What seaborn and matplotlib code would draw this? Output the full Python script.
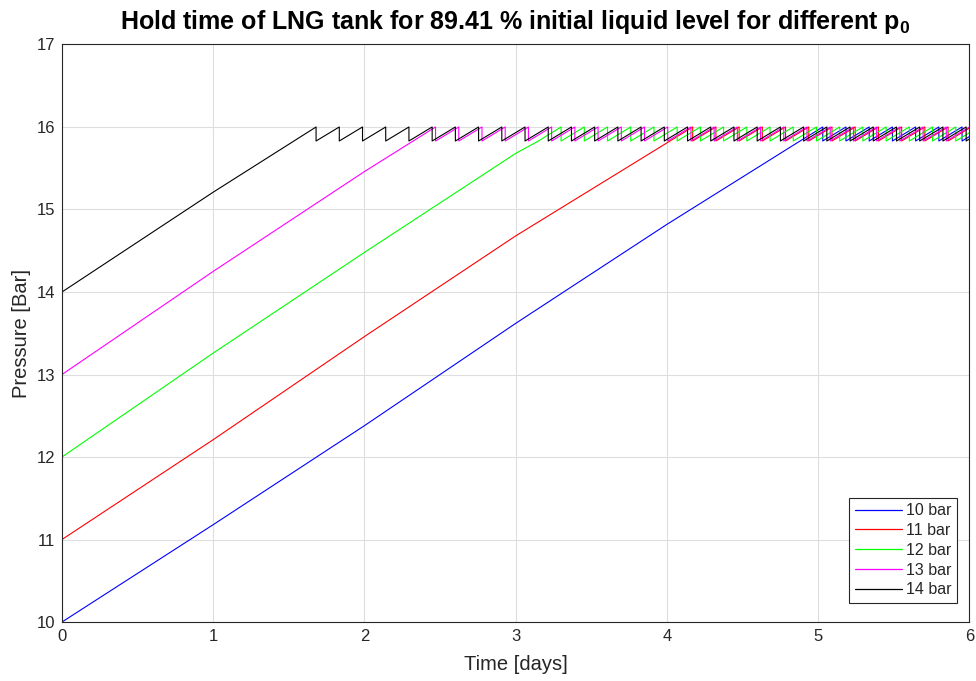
import numpy as np
import pandas as pd
import matplotlib
matplotlib.use("Agg")
import matplotlib.pyplot as plt
import seaborn as sns

# ---- data ----
labels = ["10 bar", "11 bar", "12 bar", "13 bar", "14 bar"]
colors = ["#0000FF", "#FF0000", "#00FF00", "#FF00FF", "#000000"]

# rising phase (days, bar) until the 16 bar relief limit is reached
rise_t_10 = [0.0, 1.0, 2.0, 3.0, 4.0, 4.88, 5.03]
rise_p_10 = [10.0, 11.18, 12.38, 13.62, 14.82, 15.83, 16.0]
rise_t_11 = [0.0, 1.0, 2.0, 3.0, 4.02, 4.17]
rise_p_11 = [11.0, 12.21, 13.46, 14.68, 15.83, 16.0]
rise_t_12 = [0.0, 1.0, 2.0, 3.0, 3.15, 3.30]
rise_p_12 = [12.0, 13.26, 14.48, 15.68, 15.83, 16.0]
rise_t_13 = [0.0, 1.0, 2.0, 2.47]
rise_p_13 = [13.0, 14.25, 15.46, 16.0]
rise_t_14 = [0.0, 1.0, 1.68]
rise_p_14 = [14.0, 15.21, 16.0]

p_relief = 16.0      # upper relief pressure [bar]
p_reset = 15.83      # pressure after venting [bar]
vent_period = 0.1535 # time between venting events [days]
t_end = 6.0

rises = [(rise_t_10, rise_p_10), (rise_t_11, rise_p_11), (rise_t_12, rise_p_12),
         (rise_t_13, rise_p_13), (rise_t_14, rise_p_14)]

frames = []
for lab, (rt, rp) in zip(labels, rises):
    t = list(rt)
    p = list(rp)
    tk = rt[-1]
    while tk < t_end + vent_period:
        t += [tk, tk + vent_period]
        p += [p_reset, p_relief]
        tk += vent_period
    frames.append(pd.DataFrame({"Time": t, "Pressure": p, "series": lab}))
df = pd.concat(frames, ignore_index=True)

# ---- style ----
sns.set_theme(style="white")
plt.rcParams["font.family"] = ["Liberation Sans", "DejaVu Sans"]
plt.rcParams["mathtext.fontset"] = "custom"
plt.rcParams["mathtext.rm"] = "Liberation Sans"
plt.rcParams["mathtext.bf"] = "Liberation Sans:bold"

fig = plt.figure(figsize=(9.76, 6.81), dpi=100)
ax = fig.add_axes([0.0635, 0.0866, 0.9298, 0.8481])

sns.lineplot(data=df, x="Time", y="Pressure", hue="series", hue_order=labels,
             palette=colors, estimator=None, sort=False, linewidth=0.8, ax=ax)

ax.set_xlim(0, 6)
ax.set_ylim(10, 17)
ax.set_xticks(range(0, 7))
ax.set_yticks(range(10, 18))
ax.grid(True, color="#DEDEDE", linewidth=0.8)
ax.set_axisbelow(True)
for s in ax.spines.values():
    s.set_color("#262626")
    s.set_linewidth(0.8)
ax.tick_params(direction="in", length=5, width=0.8, color="#262626",
               labelsize=12, labelcolor="#262626", top=False, right=False, pad=5)

ax.set_xlabel("Time [days]", fontsize=14.5, color="#262626", labelpad=8)
ax.set_ylabel("Pressure [Bar]", fontsize=14.5, color="#262626", labelpad=4)
ax.set_title(r"Hold time of LNG tank for 89.41 % initial liquid level for different $\mathbf{p_0}$",
             fontsize=18, fontweight="bold", pad=11, color="black")

leg = ax.legend(loc="lower right", bbox_to_anchor=(0.986, 0.033), borderaxespad=0,
                fontsize=11.5, frameon=True, fancybox=False, framealpha=1,
                edgecolor="#262626", handlelength=3.0, handletextpad=0.2,
                labelspacing=0.3, borderpad=0.35, title=None)
leg.get_frame().set_linewidth(0.8)
for line in leg.get_lines():
    line.set_linewidth(0.9)

fig.savefig("out.png", dpi=100)
